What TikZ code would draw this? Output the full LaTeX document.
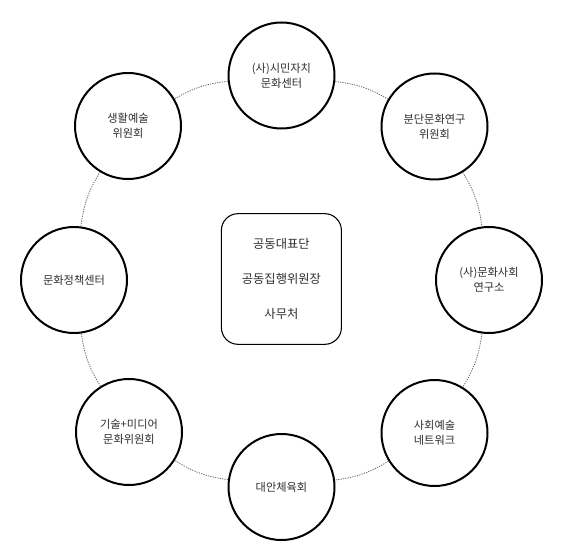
\documentclass[tikz,border=0pt]{standalone}
\usepackage{fontspec}
\setmainfont{Noto Sans CJK KR}
\definecolor{txt}{HTML}{2e2e2e}
\definecolor{dotc}{HTML}{666666}
\begin{document}
\begin{tikzpicture}[x=0.75pt,y=0.75pt,
  member/.style={circle,draw=black,line width=1.5pt,fill=white,minimum size=79.5pt,inner sep=0pt,
    align=center,font=\fontsize{8.4pt}{11.2pt}\selectfont,text=txt},
  hub/.style={rectangle,rounded corners=12.5pt,draw=black,line width=0.8pt,fill=white,
    minimum width=90pt,minimum height=98pt,inner sep=0pt,align=center,
    font=\fontsize{9.2pt}{26.3pt}\selectfont,text=txt},
  ring/.style={draw=dotc,line width=0.6pt,dash pattern=on 0.9pt off 0.9pt,bend left=12}]
\path[use as bounding box,fill=white] (0,0) rectangle (570,-559);
\node[member] (top) at (281.5,-75.5) {(사)시민자치\\문화센터};
\node[member] (tr) at (434.5,-126.5) {분단문화연구\\위원회};
\node[member] (r) at (489,-280) {(사)문화사회\\연구소};
\node[member] (br) at (434.5,-433) {사회예술\\네트워크};
\node[member] (b) at (281.5,-487) {대안체육회};
\node[member] (bl) at (129,-432) {기술+미디어\\문화위원회};
\node[member] (l) at (74,-280) {문화정책센터};
\node[member] (tl) at (128,-126) {생활예술\\위원회};
\node[hub] (hubn) at (281.4,-279) {공동대표단\\공동집행위원장\\사무처};
\draw[ring] (top) to (tr);
\draw[ring] (tr) to (r);
\draw[ring] (r) to (br);
\draw[ring] (br) to (b);
\draw[ring] (b) to (bl);
\draw[ring] (bl) to (l);
\draw[ring] (l) to (tl);
\draw[ring] (tl) to (top);
\end{tikzpicture}
\end{document}
